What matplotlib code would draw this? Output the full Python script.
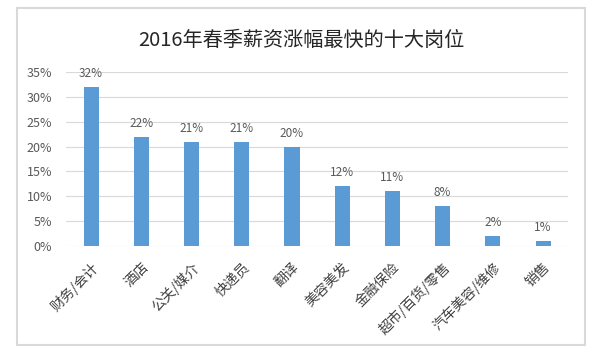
import matplotlib.pyplot as plt
from matplotlib.patches import Rectangle
from matplotlib.ticker import PercentFormatter

plt.rcParams['font.family'] = ['Noto Sans CJK SC', 'DejaVu Sans']

# data
jobs = ["财务/会计", "酒店", "公关/媒介", "快递员", "翻译", "美容美发",
        "金融保险", "超市/百货/零售", "汽车美容/维修", "销售"]
growth = [32, 22, 21, 21, 20, 12, 11, 8, 2, 1]
title = "2016年春季薪资涨幅最快的十大岗位"

text_col = "#595959"
bar_col = "#5B9BD5"
grid_col = "#D9D9D9"

fig = plt.figure(figsize=(6, 3.63), dpi=100)

# outer chart frame
fig.patches.append(Rectangle((0.028, 0.05), 0.947, 0.928, transform=fig.transFigure,
                             fill=False, edgecolor=grid_col, linewidth=1.5))

ax = fig.add_axes([0.11, 0.3223, 0.837, 0.4794])
x = range(len(jobs))
bars = ax.bar(x, growth, width=0.3, color=bar_col, zorder=2)

# value labels
for b, v in zip(bars, growth):
    ax.annotate(f"{v}%", (b.get_x() + b.get_width() / 2, v), xytext=(0, 5),
                textcoords="offset points", ha="center", va="bottom",
                fontsize=8.5, color=text_col)

ax.set_ylim(0, 35)
ax.set_xlim(-0.5, len(jobs) - 0.5)
ax.set_yticks(range(0, 36, 5))
ax.yaxis.set_major_formatter(PercentFormatter(decimals=0))
ax.grid(axis="y", color=grid_col, linewidth=0.8, zorder=0)
for s in ax.spines.values():
    s.set_visible(False)
ax.tick_params(axis="both", length=0, colors=text_col, labelsize=9)
ax.tick_params(axis="y", pad=10)
ax.tick_params(axis="x", pad=10)
ax.set_xticks(list(x))
ax.set_xticklabels(jobs, rotation=45, ha="right", rotation_mode="anchor",
                   fontsize=10, color="#404040")

fig.text(0.502, 0.89, title, ha="center", va="center", fontsize=14.5, color="#262626")

plt.savefig("out.png", dpi=100)
